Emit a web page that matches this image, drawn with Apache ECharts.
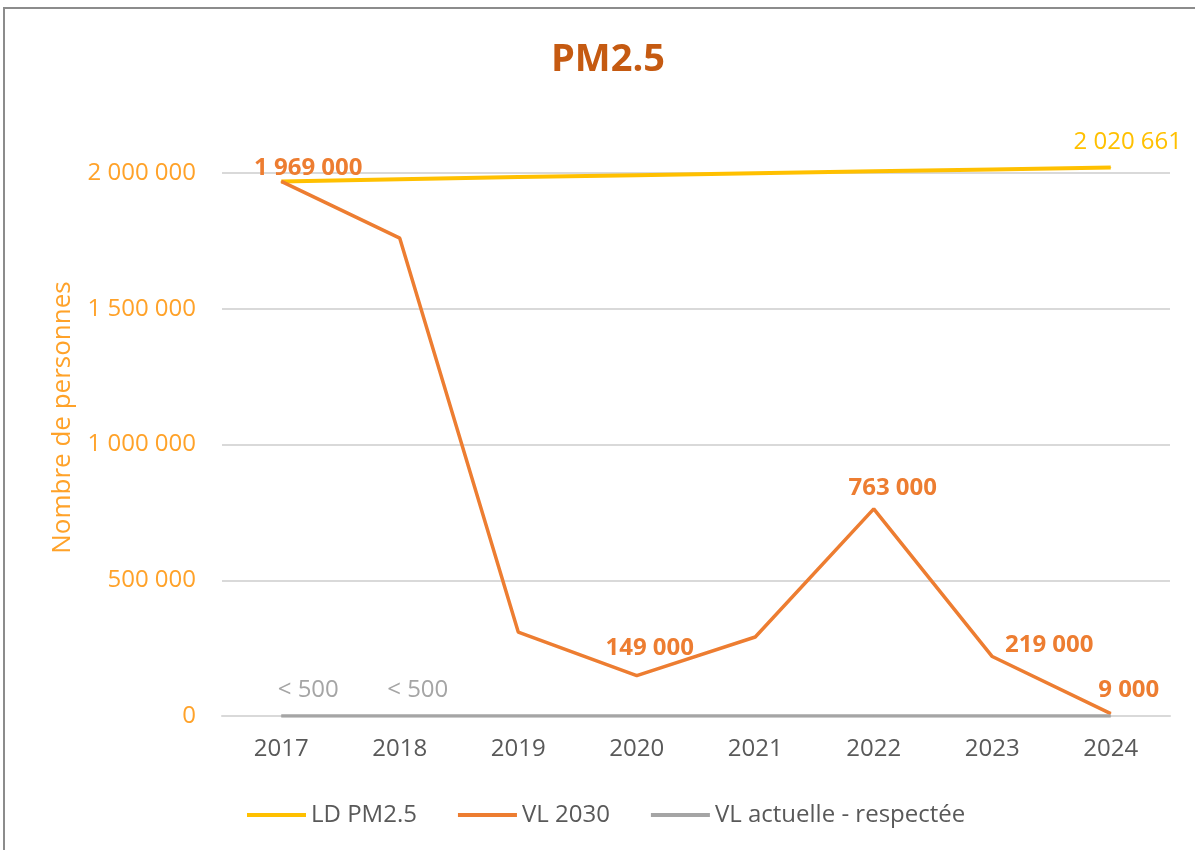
<!DOCTYPE html>
<html>
<head>
<meta charset="utf-8">
<title>PM2.5</title>
<script src="https://cdn.jsdelivr.net/npm/echarts@6/dist/echarts.min.js"></script>
<style>
  html, body { margin: 0; padding: 0; background: #fff; }
  #cadre { position: absolute; left: 3px; top: 7px; width: 1200px; height: 850px;
           border-left: 2px solid #8c8c8c; border-top: 2px solid #8c8c8c; }
  #main { position: absolute; left: 0; top: 0; width: 1195px; height: 850px; }
</style>
</head>
<body>
<div id="cadre"></div>
<div id="main"></div>
<script>
// données
var annees = ['2017', '2018', '2019', '2020', '2021', '2022', '2023', '2024'];
var ldPM25 = [1969000, 1977000, 1985000, 1992000, 1999000, 2006000, 2013000, 2020661];
var vl2030 = [1969000, 1760000, 309000, 149000, 291000, 763000, 219000, 9000];
var vlActuelle = [400, 400, 0, 0, 0, 0, 0, 0];
var yTicks = [0, 500000, 1000000, 1500000, 2000000];
var nomsSeries = ['LD PM2.5', 'VL 2030', 'VL actuelle - respectée'];

var couleurs = ['#FFC000', '#ED7D31', '#A5A5A5'];
var orangeAxe = '#FFA229';
var police = 'Open Sans';

// séparateur de milliers avec espace (format français)
function fmt(v) {
  return String(Math.round(v)).replace(/\B(?=(\d{3})+(?!\d))/g, ' ');
}

// étiquettes placées à la main (décalages en px), comme dans Excel
var etiqLD = { 7: [17, -8] };
var etiqVL2030 = { 0: [27, 4], 3: [13, -10], 5: [19, -3], 6: [57, 6], 7: [18, -6] };
var etiqActuelle = { 0: [27, -8], 1: [18, -8] };

function avecEtiquettes(valeurs, etiq, style) {
  return valeurs.map(function (v, i) {
    if (!etiq[i]) return v;
    return {
      value: v,
      label: Object.assign({ show: true, position: 'top', offset: etiq[i] }, style)
    };
  });
}

var chart = echarts.init(document.getElementById('main'), null, { renderer: 'canvas' });

var option = {
  animation: false,
  textStyle: { fontFamily: police },
  title: {
    text: 'PM2.5',
    left: 546,
    top: 36,
    textStyle: { color: '#C55A11', fontSize: 38, fontWeight: 'bold', fontFamily: police }
  },
  legend: {
    data: nomsSeries,
    left: 242,
    top: 798,
    icon: 'rect',
    itemWidth: 59,
    itemHeight: 4,
    itemGap: 41,
    textStyle: { color: '#595959', fontSize: 24, fontFamily: police }
  },
  grid: {
    left: 222,
    right: 25,
    top: 173,
    bottom: 134
  },
  xAxis: {
    type: 'category',
    data: annees,
    boundaryGap: true,
    axisLine: { show: true, lineStyle: { color: '#D9D9D9', width: 2 } },
    axisTick: { show: false },
    axisLabel: { color: '#595959', fontSize: 24, margin: 21, fontFamily: police }
  },
  yAxis: {
    type: 'value',
    min: yTicks[0],
    max: yTicks[yTicks.length - 1],
    interval: yTicks[1] - yTicks[0],
    name: 'Nombre de personnes',
    nameLocation: 'middle',
    nameRotate: 90,
    nameGap: 146,
    nameTextStyle: { color: orangeAxe, fontSize: 26, fontFamily: police, padding: [0, 0, 0, 54] },
    axisLine: { show: false },
    axisTick: { show: false },
    splitLine: { lineStyle: { color: '#D9D9D9', width: 2 } },
    axisLabel: {
      color: orangeAxe,
      fontSize: 24,
      margin: 26,
      fontFamily: police,
      formatter: function (v) { return fmt(v); }
    }
  },
  series: [
    {
      name: nomsSeries[0],
      type: 'line',
      clip: false,
      symbol: 'circle',
      symbolSize: 1,
      color: couleurs[0],
      lineStyle: { color: couleurs[0], width: 4 },
      emphasis: { disabled: true },
      label: { show: false },
      data: avecEtiquettes(ldPM25, etiqLD, {
        color: couleurs[0], fontSize: 24, fontFamily: police,
        formatter: function (p) { return fmt(p.value); }
      })
    },
    {
      name: nomsSeries[1],
      type: 'line',
      symbol: 'circle',
      symbolSize: 1,
      color: couleurs[1],
      lineStyle: { color: couleurs[1], width: 3.5 },
      emphasis: { disabled: true },
      label: { show: false },
      data: avecEtiquettes(vl2030, etiqVL2030, {
        color: couleurs[1], fontSize: 24, fontWeight: 'bold', fontFamily: police,
        formatter: function (p) { return fmt(p.value); }
      })
    },
    {
      name: nomsSeries[2],
      type: 'line',
      symbol: 'circle',
      symbolSize: 1,
      color: couleurs[2],
      lineStyle: { color: couleurs[2], width: 3.5 },
      emphasis: { disabled: true },
      label: { show: false },
      data: avecEtiquettes(vlActuelle, etiqActuelle, {
        color: couleurs[2], fontSize: 24, fontFamily: police,
        formatter: '< 500'
      })
    }
  ]
};

chart.setOption(option);
</script>
</body>
</html>
